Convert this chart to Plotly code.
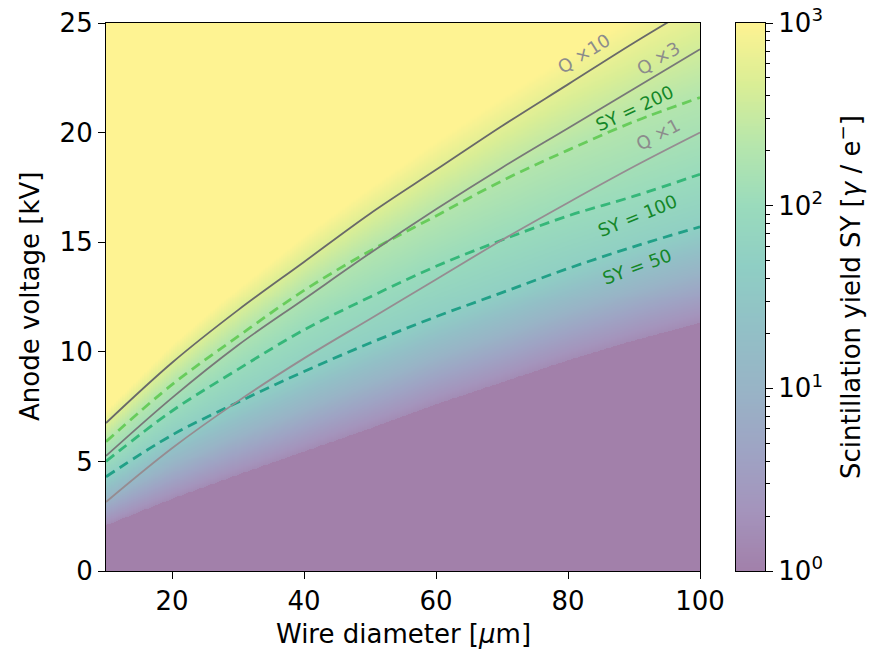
import numpy as np
import plotly.graph_objects as go
import plotly.colors as pc

# ---------------- data ----------------
# wire diameters (µm) at which the contour voltages were read
diam = [10, 20, 30, 40, 50, 60, 70, 80, 90, 100]
# scintillation-yield iso-lines: anode voltage (kV)
sy_onset = [2.1, 3.3, 4.4, 5.45, 6.5, 7.6, 8.6, 9.6, 10.5, 11.3]
sy_50 = [4.3, 6.2, 7.7, 9.1, 10.4, 11.6, 12.7, 13.8, 14.8, 15.7]
sy_100 = [5.0, 7.3, 9.2, 11.0, 12.5, 13.9, 15.1, 16.2, 17.1, 18.1]
sy_200 = [5.9, 8.5, 10.7, 12.8, 14.6, 16.2, 17.8, 19.2, 20.5, 21.6]
sy_1000 = [7.3, 10.3, 12.9, 15.3, 17.5, 19.6, 21.6, 23.5, 25.3, 27.0]
# log10(SY) at those iso-lines
sy_level_log = [0.2, np.log10(50), 2.0, np.log10(200), 3.0]
# charge-gain iso-lines: anode voltage (kV)
q_x1 = [3.15, 5.6, 7.75, 9.7, 11.5, 13.3, 15.1, 16.8, 18.45, 20.0]
q_x3 = [5.25, 7.9, 10.3, 12.4, 14.5, 16.5, 18.4, 20.2, 22.0, 23.8]
q_x10 = [6.75, 9.5, 11.9, 14.1, 16.3, 18.3, 20.3, 22.2, 24.1, 25.9]

x_ticks = [20, 40, 60, 80, 100]
y_ticks = [0, 5, 10, 15, 20, 25]
cb_ticks = [0, 1, 2, 3]
cb_ticktext = ["10<sup>0</sup>", "10<sup>1</sup>", "10<sup>2</sup>", "10<sup>3</sup>"]

# contour labels: (text, diameter, voltage, angle, kind)
labels = [
    ("Q ×10", 82.4, 23.6, -32, "q"),
    ("Q ×3", 93.6, 23.4, -31, "q"),
    ("SY = 200", 90.0, 21.1, -25, "sy"),
    ("Q ×1", 93.6, 19.9, -28, "q"),
    ("SY = 100", 90.6, 16.2, -22, "sy"),
    ("SY = 50", 90.5, 13.9, -20, "sy"),
]

# ---------------- colours ----------------
vir = pc.sequential.Viridis


def blend(c, a=0.5):
    r, g, b = pc.hex_to_rgb(c)
    return "rgb(%d,%d,%d)" % tuple(round(255 - (255 - v) * a) for v in (r, g, b))


cs = [[i / (len(vir) - 1), blend(c)] for i, c in enumerate(vir)]


def vir_at(t):
    return pc.sample_colorscale("Viridis", [t])[0]


# ---------------- field ----------------
dgrid = np.linspace(10, 100, 271)
vgrid = np.linspace(0, 25, 551)
lev_arrays = [sy_onset, sy_50, sy_100, sy_200, sy_1000]
Z = np.empty((len(vgrid), len(dgrid)))
for j, d in enumerate(dgrid):
    vl = [np.interp(d, diam, arr) for arr in lev_arrays]
    col = np.interp(vgrid, vl, sy_level_log)
    col[vgrid < vl[0]] = -1.0
    Z[:, j] = col

fig = go.Figure()
fig.add_trace(go.Heatmap(x=dgrid, y=vgrid, z=Z, colorscale=cs, zmin=0, zmax=3,
                         showscale=False, hoverinfo="skip", xaxis="x", yaxis="y"))

# SY dashed contours
for arr, lv in [(sy_200, np.log10(200)), (sy_100, 2.0), (sy_50, np.log10(50))]:
    fig.add_trace(go.Scatter(x=diam, y=arr, mode="lines", hoverinfo="skip",
                             line=dict(color=vir_at(lv / 3), width=2.8, dash="10px,6px",
                                       shape="spline", smoothing=1.0)))
# charge-gain contours
for arr, col in [(q_x10, "rgb(105,105,105)"), (q_x3, "rgb(120,120,120)"), (q_x1, "rgb(150,140,145)")]:
    fig.add_trace(go.Scatter(x=diam, y=arr, mode="lines", hoverinfo="skip",
                             line=dict(color=col, width=1.8, shape="spline", smoothing=1.0)))

# colour bar drawn as its own small axis
cbv = np.linspace(0, 3, 301)
fig.add_trace(go.Heatmap(x=[0, 1], y=cbv, z=np.column_stack([cbv, cbv]), colorscale=cs,
                         zmin=0, zmax=3, showscale=False, hoverinfo="skip",
                         xaxis="x2", yaxis="y2"))

minor_vals = [n + np.log10(k) for n in range(3) for k in range(2, 10)]

W, H = 870, 652
ydom = [1 - 571 / H, 1 - 23 / H]
axis_common = dict(showline=True, mirror=True, linecolor="black", linewidth=1.2,
                   showgrid=False, zeroline=False, ticks="outside", ticklen=7,
                   tickwidth=1.2, tickcolor="black", automargin=False)

ann = []
for text, d, v, ang, kind in labels:
    ann.append(dict(x=d, y=v, xref="x", yref="y", text=text, showarrow=False,
                    textangle=ang, xanchor="center", yanchor="middle",
                    font=dict(size=18,
                              color="rgb(140,140,140)" if kind == "q" else "rgb(20,135,40)")))
ann.append(dict(x=403 / W, y=1 - 634 / H, xref="paper", yref="paper",
                xanchor="center", yanchor="middle",
                text="Wire diameter [<i>μ</i>m]", showarrow=False, font=dict(size=26)))
ann.append(dict(x=30 / W, y=1 - 297 / H, xref="paper", yref="paper", textangle=-90,
                xanchor="center", yanchor="middle",
                text="Anode voltage [kV]", showarrow=False, font=dict(size=26)))
ann.append(dict(x=849 / W, y=1 - 297 / H, xref="paper", yref="paper", textangle=-90,
                xanchor="center", yanchor="middle",
                text="Scintillation yield SY [<i>γ</i> / e<sup>−</sup>]", showarrow=False,
                font=dict(size=26)))

fig.update_layout(
    width=W, height=H, margin=dict(l=0, r=0, t=0, b=0, pad=0),
    paper_bgcolor="white", plot_bgcolor="white", showlegend=False,
    font=dict(family="DejaVu Sans", size=26, color="black"),
    xaxis=dict(domain=[106 / W, 700 / W], range=[10, 100], tickvals=x_ticks,
               anchor="y", **axis_common),
    yaxis=dict(domain=ydom, range=[0, 25], tickvals=y_ticks, anchor="x", **axis_common),
    xaxis2=dict(domain=[736 / W, 765 / W], range=[0, 1], anchor="y2", showticklabels=False,
                showline=True, mirror=True, linecolor="black", linewidth=1.2,
                showgrid=False, zeroline=False, ticks="", automargin=False),
    yaxis2=dict(domain=ydom, range=[0, 3], anchor="x2", side="right",
                tickvals=cb_ticks, ticktext=cb_ticktext,
                minor=dict(tickmode="array", tickvals=minor_vals, ticks="outside",
                           ticklen=4, tickwidth=1, tickcolor="black", showgrid=False),
                **axis_common),
    annotations=ann,
)

fig.write_html("out.html")
